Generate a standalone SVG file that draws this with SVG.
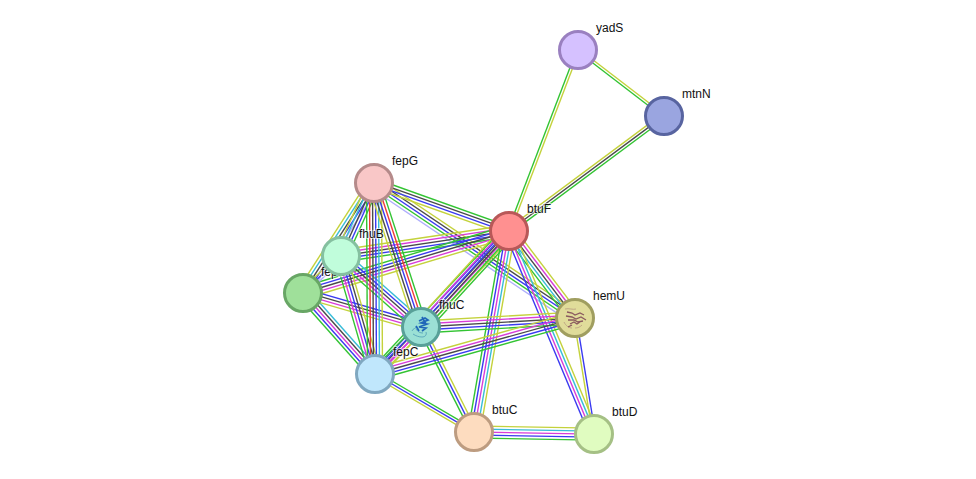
<svg xmlns="http://www.w3.org/2000/svg" width="976" height="479" viewBox="0 0 976 479">
<style>
.e path{fill:none;stroke-width:1.4}
.g{stroke:#33c433}.y{stroke:#c4d23c}.k{stroke:#4a4a4a}.b{stroke:#3a3af0}.m{stroke:#d83cd8}.c{stroke:#38bcd8}.r{stroke:#f03a3a}.l{stroke:#aeaefc}
.n circle{stroke-width:3}
text{font-family:"Liberation Sans",Arial,sans-serif;font-size:12px;fill:#111;stroke:#fff;stroke-opacity:.6;stroke-width:2px;paint-order:stroke}
.s{fill:none}
</style>
<rect width="976" height="479" fill="#fff"/>
<g id="connectors" class="e">
<g id="e-yadS-mtnN" transform="translate(578 50) rotate(37.5)"><path class="y" d="M0-1.3H108"/><path class="g" d="M0 1.3H108"/></g>
<g id="e-btuF-yadS" transform="translate(509 231) rotate(-69.1)"><path class="g" d="M0-1.3H194"/><path class="y" d="M0 1.3H194"/></g>
<g id="e-btuF-mtnN" transform="translate(509 231) rotate(-36.6)"><path class="y" d="M0-2.6H193"/><path class="k" d="M0 0H193"/><path class="g" d="M0 2.6H193"/></g>
<g id="e-fepG-hemU" transform="translate(374 183) rotate(33.9)"><path class="y" d="M0-6H242"/><path class="k" d="M0-3H242"/><path class="b" d="M0 0H242"/><path class="g" d="M0 3H242"/><path class="l" d="M0 6H242"/></g>
<g id="e-fepG-btuF" transform="translate(374 183) rotate(19.6)"><path class="g" d="M0-4.5H143"/><path class="k" d="M0-1.5H143"/><path class="b" d="M0 1.5H143"/><path class="y" d="M0 4.5H143"/></g>
<g id="e-fepD-fepG" transform="translate(303 293) rotate(-57.2)"><path class="y" d="M0-6H131"/><path class="c" d="M0-3H131"/><path class="k" d="M0 0H131"/><path class="b" d="M0 3H131"/><path class="l" d="M0 6H131"/></g>
<g id="e-fhuB-fepG" transform="translate(341 256) rotate(-65.7)"><path class="y" d="M0-6H80"/><path class="c" d="M0-3H80"/><path class="k" d="M0 0H80"/><path class="b" d="M0 3H80"/><path class="g" d="M0 6H80"/></g>
<g id="e-fhuB-btuF" transform="translate(341 256) rotate(-8.5)"><path class="y" d="M0-6H170"/><path class="m" d="M0-3H170"/><path class="k" d="M0 0H170"/><path class="b" d="M0 3H170"/><path class="g" d="M0 6H170"/></g>
<g id="e-fepD-btuF" transform="translate(303 293) rotate(-16.7)"><path class="g" d="M0-6H215"/><path class="b" d="M0-3H215"/><path class="k" d="M0 0H215"/><path class="m" d="M0 3H215"/><path class="y" d="M0 6H215"/></g>
<g id="e-fepC-btuF" transform="translate(375 374) rotate(-46.9)"><path class="g" d="M0-6H196"/><path class="b" d="M0-3H196"/><path class="k" d="M0 0H196"/><path class="m" d="M0 3H196"/><path class="y" d="M0 6H196"/></g>
<g id="e-fhuC-btuF" transform="translate(421 327) rotate(-47.5)"><path class="y" d="M0-7.5H130"/><path class="m" d="M0-4.5H130"/><path class="b" d="M0-1.5H130"/><path class="k" d="M0 1.5H130"/><path class="g" d="M0 4.5H130"/><path class="g" d="M0 7.5H130"/></g>
<g id="e-btuF-hemU" transform="translate(509 231) rotate(52.8)"><path class="y" d="M0-6H109"/><path class="m" d="M0-3H109"/><path class="k" d="M0 0H109"/><path class="c" d="M0 3H109"/><path class="g" d="M0 6H109"/></g>
<g id="e-btuC-btuF" transform="translate(474 432) rotate(-80.1)"><path class="g" d="M0-6H204"/><path class="b" d="M0-3H204"/><path class="m" d="M0 0H204"/><path class="c" d="M0 3H204"/><path class="y" d="M0 6H204"/></g>
<g id="e-btuF-btuD" transform="translate(509 231) rotate(67.3)"><path class="y" d="M0-4.5H220"/><path class="c" d="M0-1.5H220"/><path class="m" d="M0 1.5H220"/><path class="b" d="M0 4.5H220"/></g>
<g id="e-hemU-btuD" transform="translate(575 318) rotate(80.7)"><path class="b" d="M0-1.3H117"/><path class="y" d="M0 1.3H117"/></g>
<g id="e-btuC-btuD" transform="translate(474 432) rotate(1)"><path class="y" d="M0-6H120"/><path class="c" d="M0-3H120"/><path class="m" d="M0 0H120"/><path class="b" d="M0 3H120"/><path class="g" d="M0 6H120"/></g>
<g id="e-fhuC-btuC" transform="translate(421 327) rotate(63.2)"><path class="y" d="M0-3H118"/><path class="b" d="M0 0H118"/><path class="g" d="M0 3H118"/></g>
<g id="e-fepC-btuC" transform="translate(375 374) rotate(30.4)"><path class="g" d="M0-2.6H115"/><path class="b" d="M0 0H115"/><path class="y" d="M0 2.6H115"/></g>
<g id="e-fhuC-hemU" transform="translate(421 327) rotate(-3.3)"><path class="y" d="M0-6H154"/><path class="m" d="M0-3H154"/><path class="k" d="M0 0H154"/><path class="b" d="M0 3H154"/><path class="g" d="M0 6H154"/></g>
<g id="e-fepC-hemU" transform="translate(375 374) rotate(-15.6)"><path class="y" d="M0-6H208"/><path class="m" d="M0-3H208"/><path class="k" d="M0 0H208"/><path class="b" d="M0 3H208"/><path class="g" d="M0 6H208"/></g>
<g id="e-fepC-fhuC" transform="translate(375 374) rotate(-45.6)"><path class="g" d="M0-4.5H66"/><path class="b" d="M0-1.5H66"/><path class="m" d="M0 1.5H66"/><path class="y" d="M0 4.5H66"/></g>
<g id="e-fepD-fepC" transform="translate(303 293) rotate(48.4)"><path class="c" d="M0-6H108"/><path class="k" d="M0-3H108"/><path class="m" d="M0 0H108"/><path class="b" d="M0 3H108"/><path class="g" d="M0 6H108"/></g>
<g id="e-fepD-fhuC" transform="translate(303 293) rotate(16.1)"><path class="b" d="M0-4.5H123"/><path class="k" d="M0-1.5H123"/><path class="m" d="M0 1.5H123"/><path class="y" d="M0 4.5H123"/></g>
<g id="e-fepD-fhuB" transform="translate(303 293) rotate(-44.2)"><path class="y" d="M0-3H53"/><path class="b" d="M0 0H53"/><path class="l" d="M0 3H53"/></g>
<g id="e-fhuB-fhuC" transform="translate(341 256) rotate(41.6)"><path class="c" d="M0-6H107"/><path class="b" d="M0-3H107"/><path class="k" d="M0 0H107"/><path class="m" d="M0 3H107"/><path class="g" d="M0 6H107"/></g>
<g id="e-fhuB-fepC" transform="translate(341 256) rotate(73.9)"><path class="y" d="M0-6H123"/><path class="k" d="M0-3H123"/><path class="b" d="M0 0H123"/><path class="m" d="M0 3H123"/><path class="g" d="M0 6H123"/></g>
<g id="e-fepC-fepG" transform="translate(375 374) rotate(-90.3)"><path class="g" d="M0-7.5H191"/><path class="r" d="M0-4.5H191"/><path class="k" d="M0-1.5H191"/><path class="b" d="M0 1.5H191"/><path class="c" d="M0 4.5H191"/><path class="y" d="M0 7.5H191"/></g>
<g id="e-fepG-fhuC" transform="translate(374 183) rotate(71.9)"><path class="g" d="M0-6H151"/><path class="r" d="M0-3H151"/><path class="b" d="M0 0H151"/><path class="k" d="M0 3H151"/><path class="y" d="M0 6H151"/></g>
</g>
<g id="fepD" class="n"><circle cx="303" cy="293" r="18.5" fill="#9fe09a" stroke="#68a665"/><text x="321" y="276">fepD</text></g>
<g id="fhuB" class="n"><circle cx="341" cy="256" r="18.5" fill="#c0fddb" stroke="#85c0a0"/><text x="359" y="238">fhuB</text></g>
<g id="fepG" class="n"><circle cx="374" cy="183" r="18.5" fill="#f9c7c7" stroke="#b58a8a"/><text x="392" y="165">fepG</text></g>
<g id="btuF" class="n"><circle cx="509" cy="231" r="18.5" fill="#ff9090" stroke="#b85858"/><text x="527" y="213">btuF</text></g>
<g id="fhuC" class="n"><circle cx="421" cy="327" r="18.5" fill="#9be0d5" stroke="#58a098"/>
<path class="s" stroke="#4f9cb5" stroke-width=".8" d="M412 331c1-3 4-2 5-5M413 334c3 2 6 3 9 3s5-2 4-5M416 329c2 3 4 4 7 4"/>
<path class="s" stroke="#1f66b8" stroke-width="1.7" d="M419 321l6-3 3 2-7 3 6 1-8 3 7 1-4 3M422 317l4 7M416 326l3 5"/>
<text x="439" y="309">fhuC</text></g>
<g id="fepC" class="n"><circle cx="375" cy="374" r="18.5" fill="#c0e7fc" stroke="#80a8c0"/><text x="393" y="356">fepC</text></g>
<g id="hemU" class="n"><circle cx="575" cy="318" r="18.5" fill="#e0dc9a" stroke="#a09e60"/>
<path class="s" stroke="#b89a80" stroke-width=".8" d="M565 309c4-1 8 1 11 0M564 322c2 4 5 6 8 6M582 325c-2 2-4 3-7 3"/>
<path class="s" stroke="#8a5a5f" stroke-width="1.3" d="M567 312l5 1 3 2 5-2 4 2M566 316l6 1 4 2 5-2 5 3M568 320l6 0 4 2 5-1M570 324l4-2 3 2 3-2M568 327l4-2"/>
<text x="593" y="300">hemU</text></g>
<g id="btuC" class="n"><circle cx="474" cy="432" r="18.5" fill="#fddcbf" stroke="#bd9c80"/><text x="492" y="414">btuC</text></g>
<g id="btuD" class="n"><circle cx="594" cy="434" r="18.5" fill="#e0fcc0" stroke="#a5c085"/><text x="612" y="416">btuD</text></g>
<g id="yadS" class="n"><circle cx="578" cy="50" r="18.5" fill="#d5c1ff" stroke="#9a80c0"/><text x="596" y="32">yadS</text></g>
<g id="mtnN" class="n"><circle cx="664" cy="116" r="18.5" fill="#9aa5e0" stroke="#5864a0"/><text x="682" y="98">mtnN</text></g>
</svg>
